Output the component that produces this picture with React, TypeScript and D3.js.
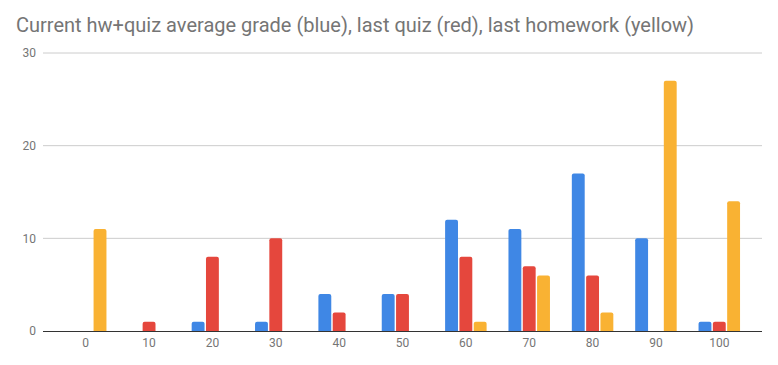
import React from "react";
import { scaleBand, scaleLinear } from "d3";

const categories = ["0", "10", "20", "30", "40", "50", "60", "70", "80", "90", "100"];
const averageGrade = [0, 0, 1, 1, 4, 4, 12, 11, 17, 10, 1];
const lastQuiz = [0, 1, 8, 10, 2, 4, 8, 7, 6, 0, 1];
const lastHomework = [11, 0, 0, 0, 0, 0, 1, 6, 2, 27, 14];
const yTicks = [0, 10, 20, 30];

const seriesList = [
  { name: "average", values: averageGrade, color: "#3f87e5" },
  { name: "quiz", values: lastQuiz, color: "#e5473d" },
  { name: "homework", values: lastHomework, color: "#f9b233" }
];

const WIDTH = 778;
const HEIGHT = 365;
const LEFT = 43;
const RIGHT = 762;
const TOP = 53;
const BOTTOM = 331;

// bar with rounded top corners
function barPath(x: number, y: number, w: number, h: number, r: number) {
  const rr = Math.min(r, h, w / 2);
  return `M${x},${y + h}V${y + rr}Q${x},${y} ${x + rr},${y}H${x + w - rr}Q${x + w},${y} ${x + w},${y + rr}V${y + h}Z`;
}

export default function App() {
  const xScale = scaleBand<string>()
    .domain(categories)
    .range([LEFT, RIGHT])
    .paddingInner(0)
    .paddingOuter(0.174);

  const yScale = scaleLinear().domain([0, 30]).range([BOTTOM, TOP]);

  const groupWidth = 41.5;
  const innerBand = scaleBand<string>()
    .domain(seriesList.map(s => s.name))
    .range([0, groupWidth])
    .paddingInner(0.1);

  const font = "Roboto, 'Noto Sans', sans-serif";

  return (
    <svg width={WIDTH} height={HEIGHT} style={{ position: "absolute", left: 0, top: 0 }}>
      <rect width={WIDTH} height={HEIGHT} fill="#fff" />
      <text x={16} y={32} fontFamily={font} fontSize={20} fill="#757575">
        Current hw+quiz average grade (blue), last quiz (red), last homework (yellow)
      </text>

      {yTicks.map(v => (
        <g key={v} transform={`translate(0, ${yScale(v)})`}>
          {v !== 0 && <line x1={LEFT} x2={RIGHT} stroke="#cccccc" strokeWidth={1} />}
          <text
            x={36}
            dy="0.35em"
            textAnchor="end"
            fontFamily={font}
            fontSize={12}
            fill="#757575"
          >
            {v}
          </text>
        </g>
      ))}

      {categories.map((c, i) => {
        const gx = xScale(c)! + xScale.bandwidth() / 2 - groupWidth / 2;
        return (
          <g key={c}>
            {seriesList.map(s => {
              const v = s.values[i];
              if (!v) return null;
              const y = yScale(v);
              return (
                <path
                  key={s.name}
                  d={barPath(gx + innerBand(s.name)!, y, innerBand.bandwidth(), BOTTOM - y, 2)}
                  fill={s.color}
                />
              );
            })}
            <text
              x={xScale(c)! + xScale.bandwidth() / 2}
              y={347}
              textAnchor="middle"
              fontFamily={font}
              fontSize={12}
              fill="#757575"
            >
              {c}
            </text>
          </g>
        );
      })}

      <line x1={LEFT} x2={RIGHT} y1={BOTTOM + 0.5} y2={BOTTOM + 0.5} stroke="#333333" strokeWidth={1} />
    </svg>
  );
}
